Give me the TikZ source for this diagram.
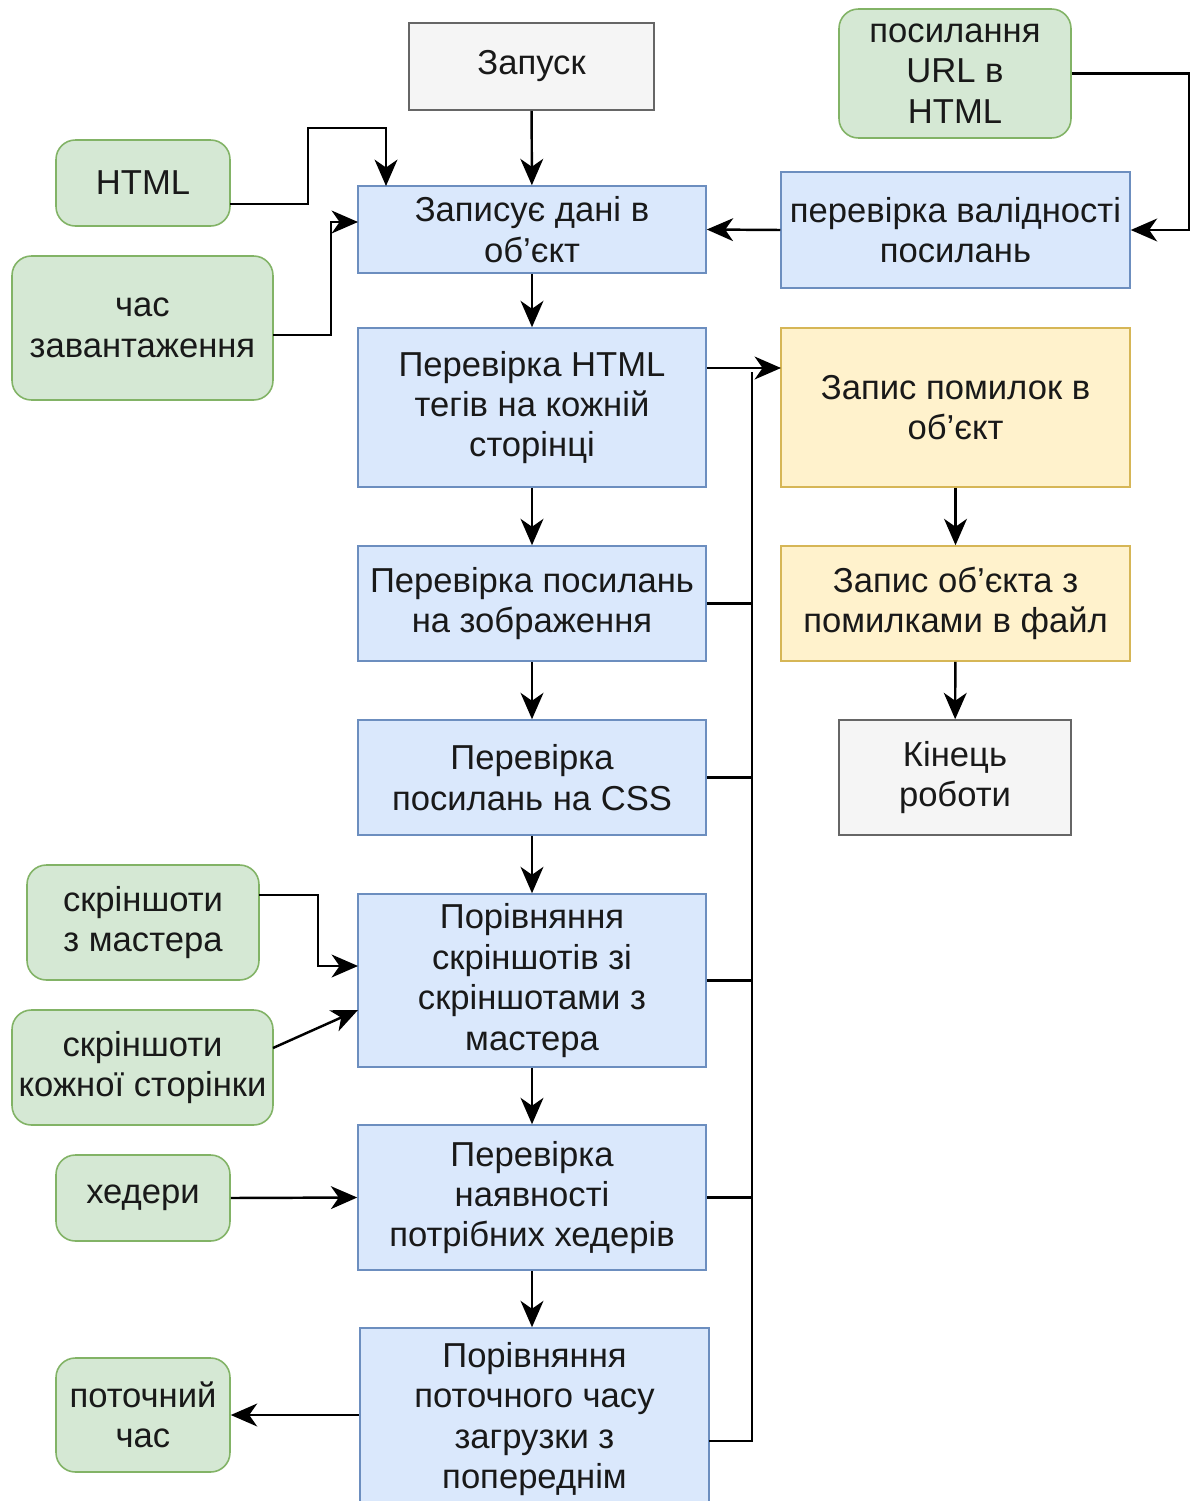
\documentclass[tikz,border=0pt]{standalone}
\usepackage{fontspec}
\setmainfont{Liberation Sans}
\usetikzlibrary{arrows.meta}
\definecolor{bluefill}{HTML}{DAE8FC}
\definecolor{blueline}{HTML}{6C8EBF}
\definecolor{greenfill}{HTML}{D5E8D4}
\definecolor{greenline}{HTML}{82B366}
\definecolor{yellowfill}{HTML}{FFF2CC}
\definecolor{yellowline}{HTML}{D6B656}
\definecolor{greyfill}{HTML}{F5F5F5}
\definecolor{greyline}{HTML}{666666}
\begin{document}
\begin{tikzpicture}[x=0.02cm, y=-0.02cm,
        font=\fontsize{19.7}{23}\selectfont,
        box/.style={rectangle, line width=0.9pt, inner sep=0pt, align=center, text=black!90},
        blk/.style={box, draw=blueline, fill=bluefill, minimum width=6.96cm},
        inp/.style={box, draw=greenline, fill=greenfill, rounded corners=11pt},
        err/.style={box, draw=yellowline, fill=yellowfill, minimum width=6.98cm},
        term/.style={box, draw=greyline, fill=greyfill},
        arr/.style={-{Stealth[length=15pt, width=13pt, inset=4.5pt]}, line width=1.4pt},
        bus/.style={line width=1.4pt}
      ]
      \useasboundingbox (0,0) rectangle (1191,1501);
      % main column
      \node[term, minimum width=4.9cm, minimum height=1.74cm] (start) at (531.5,66.5) {Запуск};
      \node[blk, minimum height=1.74cm] (write) at (532,229.5) {Записує дані в\\об'єкт};
      \node[blk, minimum height=3.18cm] (tags) at (532,407.5) {Перевірка HTML\\тегів на кожній\\сторінці};
      \node[blk, minimum height=2.3cm] (img) at (532,603.5) {Перевірка посилань\\на зображення};
      \node[blk, minimum height=2.3cm] (css) at (532,777.5) {Перевірка\\посилань на CSS};
      \node[blk, minimum height=3.46cm] (shots) at (532,980.5) {Порівняння\\скріншотів зі\\скріншотами з\\мастера};
      \node[blk, minimum height=2.9cm] (hdrs) at (532,1197.5) {Перевірка\\наявності\\потрібних хедерів};
      \node[blk, minimum width=6.98cm, minimum height=3.64cm] (cmp) at (534.5,1419) {Порівняння\\поточного часу\\загрузки з\\попереднім};

      % inputs
      \node[inp, minimum width=3.48cm, minimum height=1.72cm] (html) at (143,183) {HTML};
      \node[inp, minimum width=5.22cm, minimum height=2.88cm] (loadtime) at (142.5,328) {час\\завантаження};
      \node[inp, minimum width=4.64cm, minimum height=2.58cm] (url) at (955,73.5) {посилання\\URL в\\HTML};
      \node[inp, minimum width=4.64cm, minimum height=2.3cm] (master) at (143,922.5) {скріншоти\\з мастера};
      \node[inp, minimum width=5.22cm, minimum height=2.3cm] (pages) at (142.5,1067.5) {скріншоти\\кожної сторінки};
      \node[inp, minimum width=3.48cm, minimum height=1.72cm] (hdrsin) at (143,1198) {хедери};
      \node[inp, minimum width=3.48cm, minimum height=2.28cm] (now) at (143,1415) {поточний\\час};

      % right side
      \node[blk, minimum width=6.98cm, minimum height=2.32cm] (valid) at (955.5,230) {перевірка валідності\\посилань};
      \node[err, minimum height=3.18cm] (errs) at (955.5,407.5) {Запис помилок в\\об'єкт};
      \node[err, minimum height=2.3cm] (save) at (955.5,603.5) {Запис об'єкта з\\помилками в файл};
      \node[term, minimum width=4.64cm, minimum height=2.3cm] (finish) at (955,777.5) {Кінець\\роботи};

      % ports
      \coordinate (htmlout) at (230,204);
      \coordinate (writetop) at (386,186);
      \coordinate (loadout) at (273,335);
      \coordinate (writeleft) at (358,222);
      \coordinate (busin) at (781,368);
      \coordinate (bus) at (752,372);
      \coordinate (masterout) at (259,895);
      \coordinate (shotsin) at (358,966);
      \coordinate (pagesout) at (273,1048);
      \coordinate (shotsin2) at (358,1010);
      \coordinate (cmpout) at (709,1441);

      % edges
      \draw[arr] (start) -- (write);
      \draw[arr] (write) -- (tags);
      \draw[arr] (tags) -- (img);
      \draw[arr] (img) -- (css);
      \draw[arr] (css) -- (shots);
      \draw[arr] (shots) -- (hdrs);
      \draw[arr] (hdrs.south) -- (hdrs.south |- cmp.north);
      \draw[arr] (htmlout) -| (308,128) -| (writetop);
      \draw[arr] (loadout) -| (331,222) -- (writeleft);
      \draw[arr] (url.east) -- ++(117,0) |- (valid.east);
      \draw[arr] (valid.west) -- (write.east);
      \draw[arr] (errs) -- (save);
      \draw[arr] (save) -- (finish);
      \draw[arr] (masterout) -- (318,895) |- (shotsin);
      \draw[arr] (pagesout) -- (shotsin2);
      \draw[arr] (hdrsin.east) -- (hdrs.west);
      \draw[arr] (cmp.west |- now) -- (now.east);

      % error bus
      \draw[arr] (tags.east |- busin) -- (busin);
      \draw[bus] (img.east) -| (bus);
      \draw[bus] (css.east) -| (bus);
      \draw[bus] (shots.east) -| (bus);
      \draw[bus] (hdrs.east) -| (bus);
      \draw[bus] (cmpout) -| (bus);
  \end{tikzpicture}
\end{document}
